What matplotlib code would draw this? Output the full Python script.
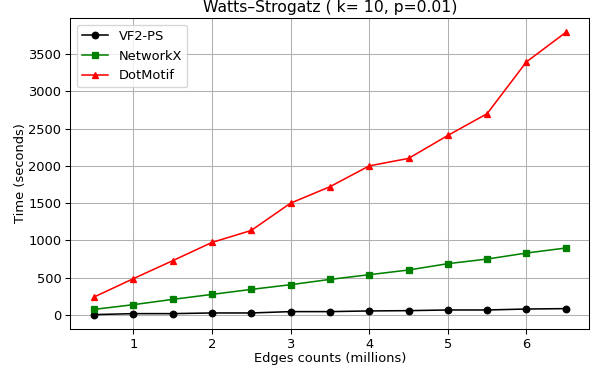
import matplotlib.pyplot as plt

edges = [0.5, 1.0, 1.5, 2.0, 2.5, 3.0, 3.5, 4.0, 4.5, 5.0, 5.5, 6.0, 6.5]

vf2ps = [5, 18, 18, 27, 27, 45, 45, 54, 58, 67, 67, 80, 85]
networkx = [75, 138, 209, 276, 343, 406, 477, 540, 603, 688, 750, 831, 898]
dotmotif = [241, 487, 728, 973, 1134, 1500, 1720, 2000, 2100, 2408, 2700, 3395, 3790]

DPI = 94
fig, ax = plt.subplots(figsize=(592 / DPI, 370 / DPI), dpi=DPI)
fig.subplots_adjust(left=0.119, right=0.9955, bottom=0.1116, top=0.9505)

ax.plot(edges, vf2ps, color="black", marker="o", ms=5, lw=1.2, label="VF2-PS")
ax.plot(edges, networkx, color="green", marker="s", ms=5, lw=1.2, label="NetworkX")
ax.plot(edges, dotmotif, color="red", marker="^", ms=5, lw=1.2, label="DotMotif")

ax.set_title("Watts\u2013Strogatz ( k= 10, p=0.01)", fontsize=12, pad=5)
ax.set_xlabel("Edges counts (millions)", labelpad=1)
ax.set_ylabel("Time (seconds)", labelpad=1)
ax.grid(True)
ax.legend(loc="upper left")

fig.savefig("out.png", dpi=DPI)
